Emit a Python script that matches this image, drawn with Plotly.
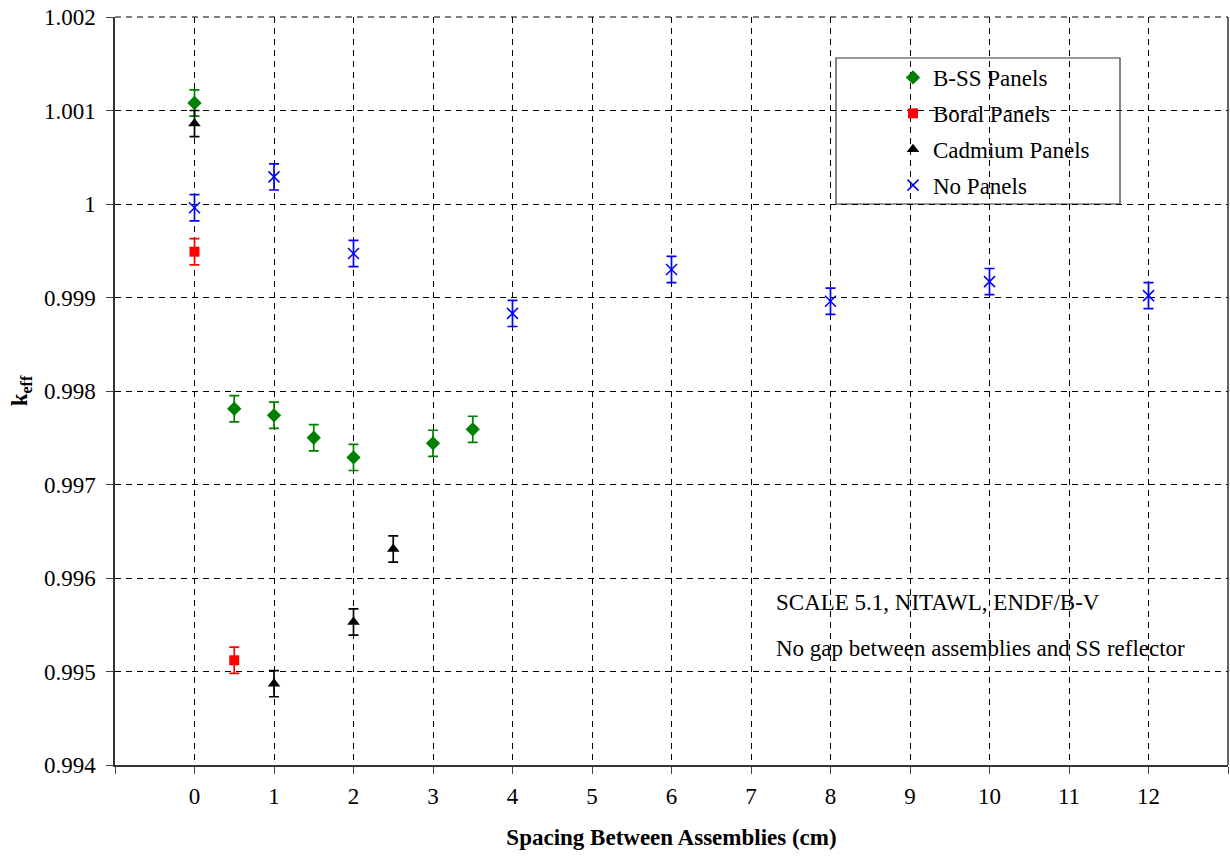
import plotly.graph_objects as go

# Data
bss_x = [0, 0.5, 1, 1.5, 2, 3, 3.5]
bss_y = [1.00108, 0.99781, 0.99774, 0.99750, 0.99729, 0.99744, 0.99759]
bss_err = [0.00014] * 7

boral_x = [0, 0.5]
boral_y = [0.99949, 0.99512]
boral_err = [0.00014] * 2

cad_x = [0, 1, 2, 2.5]
cad_y = [1.00086, 0.99487, 0.99553, 0.99631]
cad_err = [0.00014] * 4

none_x = [0, 1, 2, 4, 6, 8, 10, 12]
none_y = [0.99996, 1.00029, 0.99947, 0.99883, 0.99930, 0.99896, 0.99917, 0.99902]
none_err = [0.00014] * 8

x_ticks = list(range(-1, 14))
x_ticktext = [str(v) if 0 <= v <= 12 else " " for v in x_ticks]
y_ticks = [0.994, 0.995, 0.996, 0.997, 0.998, 0.999, 1.000, 1.001, 1.002]
y_ticktext = ["0.994", "0.995", "0.996", "0.997", "0.998", "0.999", "1", "1.001", "1.002"]

FONT = "Liberation Serif, serif"
FS = 23

fig = go.Figure()

def add(name, xs, ys, errs, color, symbol, size, group):
    fig.add_trace(go.Scatter(
        x=xs, y=ys, mode="markers", name=name, legendgroup=group,
        marker=dict(color=color, symbol=symbol, size=size,
                    line=dict(color=color, width=1.5 if "x" in symbol else 0)),
        error_y=dict(type="data", array=errs, visible=True, color=color,
                     thickness=1.7, width=5),
    ))

add("B-SS Panels", bss_x, bss_y, bss_err, "#008000", "diamond", 11, "a")
add("Boral Panels", boral_x, boral_y, boral_err, "#ff0000", "square", 10, "b")
add("Cadmium Panels", cad_x, cad_y, cad_err, "#000000", "triangle-up", 11, "c")
add("No Panels", none_x, none_y, none_err, "#0000ff", "x-thin-open", 11, "d")

W, H = 1230, 856
L, T, R, B = 115, 17, 2, 91
pw = W - L - R
ph = H - T - B


def px_x(p):
    return (p - L) / pw


def px_y(p):
    return (H - B - p) / ph


# legend frame
fig.add_shape(type="rect", xref="paper", yref="paper",
              x0=px_x(836), x1=px_x(1120), y0=px_y(204), y1=px_y(58),
              line=dict(color="#333333", width=1.2), fillcolor="white", layer="below")

# top gridline (at the upper range edge) and right border
fig.add_shape(type="line", xref="paper", yref="paper", x0=0, x1=1, y0=1, y1=1,
              line=dict(color="black", width=1, dash="6px,5px"), layer="below")
fig.add_shape(type="line", xref="paper", yref="paper", x0=1, x1=1, y0=0, y1=1,
              line=dict(color="#333333", width=1.5), layer="below")

fig.add_annotation(xref="paper", yref="paper", x=px_x(774), y=px_y(602),
                   xanchor="left", yanchor="middle", showarrow=False,
                   text="SCALE 5.1, NITAWL, ENDF/B-V",
                   font=dict(family=FONT, size=FS, color="black"))
fig.add_annotation(xref="paper", yref="paper", x=px_x(774), y=px_y(648),
                   xanchor="left", yanchor="middle", showarrow=False,
                   text="No gap between assemblies and SS reflector",
                   font=dict(family=FONT, size=FS, color="black"))

fig.update_layout(
    width=W, height=H,
    margin=dict(l=L, r=R, t=T, b=B, autoexpand=False),
    paper_bgcolor="white", plot_bgcolor="white",
    font=dict(family=FONT, size=FS, color="black"),
    showlegend=True,
    legend=dict(x=px_x(893), y=px_y(56), xanchor="left", yanchor="top",
                bgcolor="rgba(0,0,0,0)", borderwidth=0,
                font=dict(family=FONT, size=FS), tracegroupgap=3,
                itemwidth=30),
    xaxis=dict(range=[-1, 13], tickvals=x_ticks, ticktext=x_ticktext,
               tickfont=dict(family=FONT, size=FS, color="black"),
               showgrid=True, gridcolor="black", griddash="6px,5px", gridwidth=1,
               showline=True, linecolor="#333333", linewidth=1.5, mirror=False,
               ticks="outside", ticklen=7, tickcolor="#444444",
               ticklabelstandoff=3, ticklabeloverflow="allow", zeroline=False,
               title=dict(text="<b>Spacing Between Assemblies (cm)</b>",
                          font=dict(family=FONT, size=FS), standoff=21)),
    yaxis=dict(range=[0.994, 1.002], tickvals=y_ticks, ticktext=y_ticktext,
               tickfont=dict(family=FONT, size=FS, color="black"),
               showgrid=True, gridcolor="black", griddash="6px,5px", gridwidth=1,
               showline=True, linecolor="#333333", linewidth=1.5,
               ticks="outside", ticklen=7, tickcolor="#444444", zeroline=False,
               ticklabelstandoff=6, ticklabeloverflow="allow",
               title=dict(text="<b>k<sub>eff</sub></b>",
                          font=dict(family=FONT, size=FS), standoff=10)),
)

fig.write_html("out.html", config={"displayModeBar": False},
               post_script="document.body.style.margin='0';document.body.style.overflow='hidden';")
